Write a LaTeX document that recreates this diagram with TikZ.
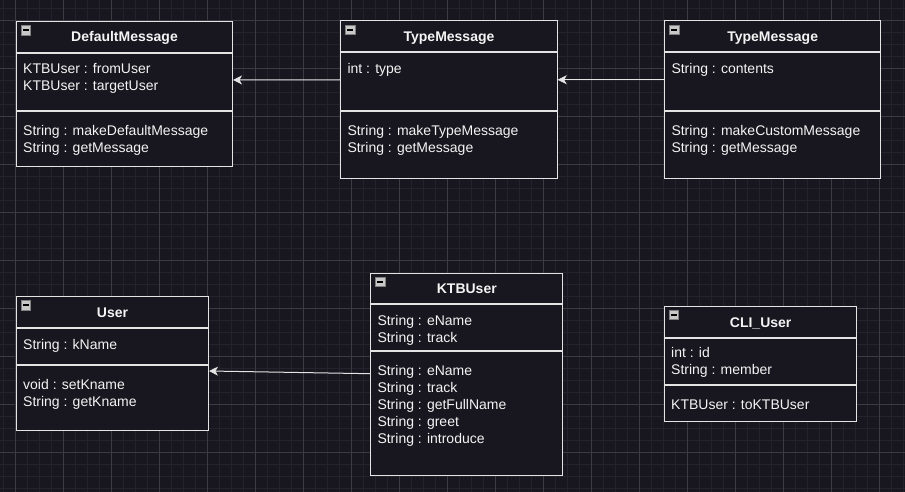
\documentclass[tikz,border=0pt]{standalone}
\usepackage{fontspec}
\setmainfont{Liberation Sans}
\usetikzlibrary{arrows.meta}

\definecolor{canvas}{HTML}{18161E}
\definecolor{gridminor}{HTML}{25222B}
\definecolor{gridmajor}{HTML}{3C3B42}
\definecolor{boxline}{HTML}{E4E4E4}
\definecolor{inktext}{HTML}{F4F4F4}
\definecolor{iconfill}{HTML}{C8C8C8}

\tikzset{
  head/.style={draw=boxline, fill=canvas, line width=1pt, anchor=north west,
    inner sep=0pt, minimum height=31pt, text=inktext,
    font=\fontsize{14}{17}\selectfont\bfseries, text height=10pt, text depth=0pt},
  part/.style={draw=boxline, fill=canvas, line width=1pt, anchor=north west, inner sep=0pt},
  rows/.style={anchor=base west, inner sep=0pt, align=left, text=inktext,
    font=\fontsize{14}{17}\selectfont},
  assoc/.style={draw=boxline, line width=1pt, -{Stealth[length=9pt,width=9pt,inset=2.5pt]}},
}

\begin{document}
\begin{tikzpicture}[x=1pt, y=-1pt]
  % canvas and grid (1 unit = 1 px of the 905x492 picture)
  \fill[canvas] (0,0) rectangle (905,492);
  \useasboundingbox (0,0) rectangle (905,492);
  \foreach \g in {3.3,15.3,...,905} \draw[gridminor, line width=1pt] (\g,0) -- (\g,492);
  \foreach \g in {8.3,20.3,...,492} \draw[gridminor, line width=1pt] (0,\g) -- (905,\g);
  \foreach \g in {15.3,63.3,...,905} \draw[gridmajor, line width=1pt] (\g,0) -- (\g,492);
  \foreach \g in {20.3,68.3,...,492} \draw[gridmajor, line width=1pt] (0,\g) -- (905,\g);

  % DefaultMessage
  \node[head, minimum width=216pt] (dm) at (16,21) {DefaultMessage};
  \node[part, minimum width=216pt, minimum height=57pt] (dmA) at (dm.south west) {};
  \node[part, minimum width=216pt, minimum height=55pt] (dmM) at (dmA.south west) {};
  % base of a multi-line node = last line
  \node[rows] (dmAt) at ([shift={(7,38)}]dm.south west) {KTBUser : fromUser\\KTBUser : targetUser};
  \node[rows] (dmMt) at ([shift={(7,41.5)}]dmA.south west) {String : makeDefaultMessage\\String : getMessage};

  % TypeMessage (middle)
  \node[head, minimum width=216.4pt] (tmA) at (340.3,20.5) {TypeMessage};
  \node[part, minimum width=216.4pt, minimum height=57.5pt] (tmAA) at (tmA.south west) {};
  \node[part, minimum width=216.4pt, minimum height=66.7pt] (tmAM) at (tmAA.south west) {};
  \node[rows] (tmAAt) at ([shift={(7,21)}]tmA.south west) {int : type};
  \node[rows] (tmAMt) at ([shift={(7,41.5)}]tmAA.south west) {String : makeTypeMessage\\String : getMessage};

  % TypeMessage (right)
  \node[head, minimum width=215.7pt] (tmB) at (664.3,20.5) {TypeMessage};
  \node[part, minimum width=215.7pt, minimum height=57.5pt] (tmBA) at (tmB.south west) {};
  \node[part, minimum width=215.7pt, minimum height=66.7pt] (tmBM) at (tmBA.south west) {};
  \node[rows] (tmBAt) at ([shift={(7,21)}]tmB.south west) {String : contents};
  \node[rows] (tmBMt) at ([shift={(7,41.5)}]tmBA.south west) {String : makeCustomMessage\\String : getMessage};

  % User
  \node[head, minimum width=192pt, minimum height=31.3pt] (us) at (16,296) {User};
  \node[part, minimum width=192pt, minimum height=36pt] (usA) at (us.south west) {};
  \node[part, minimum width=192pt, minimum height=64.4pt] (usM) at (usA.south west) {};
  \node[rows] (usAt) at ([shift={(7,21)}]us.south west) {String : kName};
  \node[rows] (usMt) at ([shift={(7,41.5)}]usA.south west) {void : setKname\\String : getKname};

  % KTBUser
  \node[head, minimum width=192pt, minimum height=30.6pt] (ktb) at (370.3,272.7) {KTBUser};
  \node[part, minimum width=192pt, minimum height=46pt] (ktbA) at (ktb.south west) {};
  \node[part, minimum width=192pt, minimum height=124pt] (ktbM) at (ktbA.south west) {};
  \node[rows] (ktbAt) at ([shift={(7,38)}]ktb.south west) {String : eName\\String : track};
  \node[rows] (ktbMt) at ([shift={(7,92.5)}]ktbA.south west)
    {String : eName\\String : track\\String : getFullName\\String : greet\\String : introduce};

  % CLI_User
  \node[head, minimum width=192.3pt, minimum height=31.6pt] (cli) at (664,305.7) {CLI\_User};
  \node[part, minimum width=192.3pt, minimum height=45.7pt] (cliA) at (cli.south west) {};
  \node[part, minimum width=192.3pt, minimum height=35.7pt] (cliM) at (cliA.south west) {};
  \node[rows] (cliAt) at ([shift={(7,36.5)}]cli.south west) {int : id\\String : member};
  \node[rows] (cliMt) at ([shift={(7,24.5)}]cliA.south west) {KTBUser : toKTBUser};

  % collapse icons
  \foreach \c in {dm,tmA,tmB,us,ktb,cli} {
    \filldraw[fill=iconfill, draw=gray, line width=0.6pt] ([shift={(5,4.5)}]\c.north west) rectangle ++(9.5,9.5);
    \draw[black, line width=1.6pt] ([shift={(7,9.25)}]\c.north west) -- ++(5.5,0);
  }

  % associations
  \draw[assoc] ([yshift=2pt]tmAA.west) -- ([yshift=2pt]dmA.east);
  \draw[assoc] ([yshift=2pt]tmBA.west) -- ([yshift=2pt]tmAA.east);
  \draw[assoc] ([yshift=-22.4pt]ktbM.north west) -- ([yshift=-5.7pt]usM.north east);
\end{tikzpicture}
\end{document}
